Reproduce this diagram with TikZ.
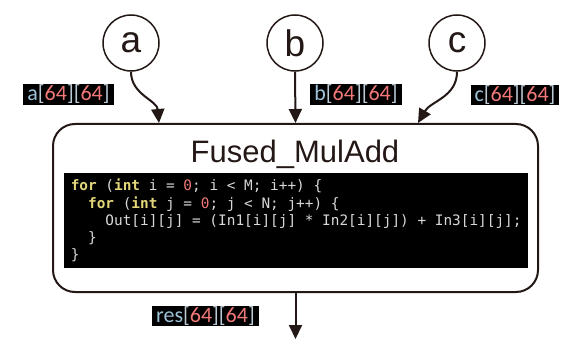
\documentclass[tikz,border=0pt]{standalone}
\usepackage{fontspec}
\setmainfont{Liberation Sans}
\newfontfamily\labelfont{Carlito}
\newfontfamily\codefont{DejaVu Sans Mono}
\usetikzlibrary{arrows.meta,positioning}

\definecolor{ink}{HTML}{231815}
\definecolor{kwyellow}{HTML}{E3D77A}
\definecolor{numred}{HTML}{F07878}
\definecolor{codegray}{HTML}{D8D8D8}
\definecolor{idblue}{HTML}{9DC3DA}
\definecolor{brgray}{HTML}{BCCBD6}

% syntax colouring helpers
\newcommand{\kw}[1]{\textcolor{kwyellow}{\textbf{#1}}}
\newcommand{\numc}[1]{\textcolor{numred}{#1}}
\newcommand{\brk}[1]{\textcolor{brgray}{#1}}
\newcommand{\dims}[1]{\textcolor{idblue}{#1}\brk{[}\numc{64}\brk{]}\brk{[}\numc{64}\brk{]}}

\tikzset{
  circ/.style={circle, draw=ink, line width=1.5pt, minimum size=56pt, inner sep=0pt,
    font=\fontsize{37}{37}\selectfont, text=ink},
  kernel/.style={draw=ink, line width=2pt, rounded corners=22pt,
    minimum width=485pt, minimum height=168pt},
  kname/.style={font=\fontsize{31}{31}\selectfont, text=ink},
  codebox/.style={fill=black, text=codegray, align=left,
    inner xsep=6pt, inner ysep=5pt, minimum width=464pt, minimum height=95pt,
    font=\codefont\fontsize{14.4}{17.2}\selectfont},
  dimlabel/.style={fill=black, inner xsep=4pt, inner ysep=1pt,
    font=\labelfont\fontsize{22}{22}\selectfont},
  flow/.style={draw=ink, line width=2pt, -{Triangle[length=14pt,width=13pt]}}
}

\begin{document}
\begin{tikzpicture}[x=1pt, y=-1pt]
\useasboundingbox (0,0) rectangle (562,339);

% inputs
\node[circ] (a) at (131,43) {a};
\node[circ] (b) at (295,43) {b};
\node[circ] (c) at (457,43) {c};

% fused kernel
\node[kernel] (fused) at (295.5,208) {};
\node[kname] (name) at (295,154) {Fused\_MulAdd};
\node[codebox, anchor=north west] (code) at (64,173) {%
\kw{for} (\kw{int} i = \numc{0}; i < M; i++) \{\\
\phantom{xx}\kw{for} (\kw{int} j = \numc{0}; j < N; j++) \{\\
\phantom{xxxx}Out[i][j] = (In1[i][j] * In2[i][j]) + In3[i][j];\\
\phantom{xx}\}\\
\}};

% edges
\draw[flow] (a.south) to[out=-90, in=95] ([xshift=-136.5pt]fused.north);
\draw[flow] (b.south) -- (fused.north);
\draw[flow] (c.south) to[out=-90, in=60] ([xshift=122.5pt]fused.north);
\coordinate (out) at (295.5,339);
\draw[flow] (fused.south) -- (out);

% tensor shapes
\node[dimlabel] (la) at (68.5,94.5) {\dims{a}};
\node[dimlabel] (lb) at (356,94.5) {\dims{b}};
\node[dimlabel] (lc) at (515,95) {\dims{c}};
\node[dimlabel] (lres) at (205.5,316) {\dims{res}};
\end{tikzpicture}
\end{document}
